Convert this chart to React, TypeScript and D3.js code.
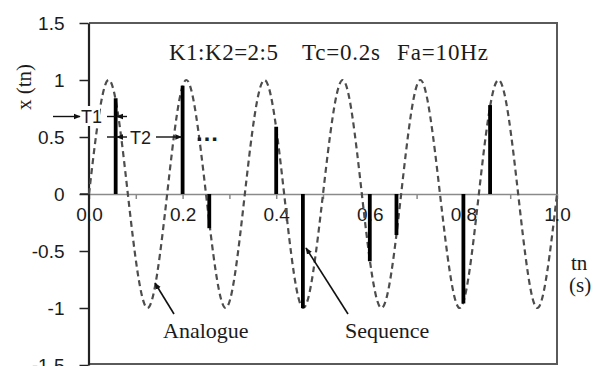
import React, { useEffect, useRef } from 'react';
import * as d3 from 'd3';

// analogue signal, read at peaks / zero crossings / troughs (s, value)
const analogueT = [0, 0.042, 0.083, 0.125, 0.167, 0.208, 0.25, 0.292, 0.333, 0.375, 0.417, 0.458, 0.5,
  0.542, 0.583, 0.625, 0.667, 0.708, 0.75, 0.792, 0.833, 0.875, 0.917, 0.958, 1.0];
const analogueX = [0, 1, 0, -1, 0, 1, 0, -1, 0, 1, 0, -1, 0, 1, 0, -1, 0, 1, 0, -1, 0, 1, 0, -1, 0];

// sampled sequence (stems)
const sequenceT = [0.057, 0.2, 0.257, 0.4, 0.457, 0.6, 0.657, 0.8, 0.857];
const sequenceX = [0.84, 0.95, -0.3, 0.59, -1.0, -0.59, -0.36, -0.96, 0.78];

const xTicks = [0, 0.1, 0.2, 0.3, 0.4, 0.5, 0.6, 0.7, 0.8, 0.9, 1.0];
const yTicks = [-1.5, -1, -0.5, 0, 0.5, 1, 1.5];

const W = 593;
const H = 366;

const App = () => {
  const svgRef = useRef<SVGSVGElement>(null);

  useEffect(() => {
    const svg = d3.select(svgRef.current);
    svg.selectAll('*').remove();

    const x = d3.scaleLinear().domain([0, 1]).range([89, 557]);
    const y = d3.scaleLinear().domain([-1.5, 1.5]).range([365, 23]);

    const sans = '"Liberation Sans", Arial, sans-serif';
    const serif = '"Liberation Serif", "Times New Roman", serif';
    const ink = '#1b1b1b';

    svg.append('rect').attr('width', W).attr('height', H).attr('fill', '#fff');

    const defs = svg.append('defs');
    defs.append('marker')
      .attr('id', 'ah')
      .attr('viewBox', '0 0 10 10')
      .attr('refX', 9).attr('refY', 5)
      .attr('markerWidth', 7).attr('markerHeight', 7)
      .attr('markerUnits', 'userSpaceOnUse')
      .attr('orient', 'auto')
      .append('path').attr('d', 'M0,1 L10,5 L0,9 Z').attr('fill', '#111');

    // plot frame (top / right / bottom)
    svg.append('path')
      .attr('d', `M${x(0)},${y(1.5)}H${x(1)}V${y(-1.5) - 1}H${x(0)}`)
      .attr('fill', 'none')
      .attr('stroke', '#5a5a5a')
      .attr('stroke-width', 2);

    // x axis on y = 0
    const xAxis = d3.axisBottom(x)
      .tickValues(xTicks)
      .tickSizeInner(5)
      .tickSizeOuter(0)
      .tickPadding(9)
      .tickFormat((d: any) => (Math.round(d * 10) % 2 === 0 ? d3.format('.1f')(d) : ''));
    const gx = svg.append('g').attr('transform', `translate(0,${y(0)})`).call(xAxis);
    gx.select('.domain').attr('stroke', '#8a8a8a').attr('stroke-width', 1.5);
    gx.selectAll('line').attr('stroke', '#8a8a8a').attr('stroke-width', 1.5);
    gx.selectAll('text').attr('font-family', sans).attr('font-size', 19).attr('fill', ink);
    // extend the zero line to the left tick
    svg.append('line')
      .attr('x1', 80).attr('x2', x(0))
      .attr('y1', y(0)).attr('y2', y(0))
      .attr('stroke', '#333').attr('stroke-width', 1.5);

    // y axis (plain hyphen for negatives, like the source)
    const yAxis = d3.axisLeft(y)
      .tickValues(yTicks)
      .tickSizeInner(9)
      .tickSizeOuter(0)
      .tickPadding(15)
      .tickFormat((d: any) => String(d));
    const gy = svg.append('g').attr('transform', `translate(${x(0) - 0.5},0)`).call(yAxis);
    gy.select('.domain').attr('stroke', '#222').attr('stroke-width', 2.2);
    gy.selectAll('line').attr('stroke', '#222').attr('stroke-width', 1.5);
    gy.selectAll('text').attr('font-family', sans).attr('font-size', 19).attr('fill', ink);

    // analogue signal
    const line = d3.line<number>()
      .x((_, i) => x(analogueT[i]))
      .y(d => y(d))
      .curve(d3.curveNatural);
    svg.append('path')
      .attr('d', line(analogueX))
      .attr('fill', 'none')
      .attr('stroke', '#4d4d4d')
      .attr('stroke-width', 2.2)
      .attr('stroke-dasharray', '6,4');

    // sequence stems
    svg.append('g')
      .selectAll('line')
      .data(sequenceX)
      .enter()
      .append('line')
      .attr('x1', (_, i) => x(sequenceT[i]))
      .attr('x2', (_, i) => x(sequenceT[i]))
      .attr('y1', y(0))
      .attr('y2', d => y(d))
      .attr('stroke', '#000')
      .attr('stroke-width', 3.8);

    // annotation text
    const txt = (tx: number, ty: number, s: string, size: number, family: string, anchor = 'start') =>
      svg.append('text')
        .attr('x', tx).attr('y', ty)
        .attr('font-family', family)
        .attr('font-size', size)
        .attr('text-anchor', anchor)
        .attr('fill', ink)
        .text(s);

    txt(169, 60, 'K1:K2=2:5', 23, serif).attr('textLength', 109);
    txt(302, 60, 'Tc=0.2s', 23, serif).attr('textLength', 78);
    txt(397, 60, 'Fa=10Hz', 23, serif).attr('textLength', 91);

    svg.append('text')
      .attr('transform', `translate(31,87) rotate(-90)`)
      .attr('text-anchor', 'middle')
      .attr('font-family', serif)
      .attr('font-size', 21)
      .attr('fill', ink)
      .text('x (tn)');

    txt(571, 270, 'tn', 21, serif);
    txt(569, 292, '(s)', 21, serif);

    txt(163, 338, 'Analogue', 22, serif);
    txt(345, 338, 'Sequence', 22, serif);

    const arrow = (x1: number, y1: number, x2: number, y2: number, w = 1.4) =>
      svg.append('line')
        .attr('x1', x1).attr('y1', y1).attr('x2', x2).attr('y2', y2)
        .attr('stroke', '#111').attr('stroke-width', w)
        .attr('marker-end', 'url(#ah)');

    arrow(174, 314, 155, 283, 1.6);
    arrow(348, 314, 306, 248, 1.6);

    // T1 / T2 interval marks
    const yT1 = 116.5;
    const yT2 = y(0.5);
    arrow(53, yT1, 80, yT1);
    svg.append('rect').attr('x', 81).attr('y', 106).attr('width', 19).attr('height', 20).attr('fill', '#fff');
    txt(81, 123, 'T1', 18, sans);
    arrow(127, yT1, x(sequenceT[0]) + 1, yT1);
    svg.append('line').attr('x1', 107).attr('x2', x(sequenceT[0])).attr('y1', yT1).attr('y2', yT1)
      .attr('stroke', '#111').attr('stroke-width', 1.4);

    arrow(127, yT2, x(sequenceT[0]) + 1, yT2);
    svg.append('line').attr('x1', 107).attr('x2', x(sequenceT[0])).attr('y1', yT2).attr('y2', yT2)
      .attr('stroke', '#111').attr('stroke-width', 1.4);
    txt(130, 144, 'T2', 18, sans);
    arrow(156, yT2, x(sequenceT[1]) - 1, yT2);
    txt(195, 141, '\u2026', 24, sans).attr('font-weight', 'bold');
  }, []);

  return (
    <svg
      ref={svgRef}
      width={W}
      height={H}
      style={{ position: 'absolute', left: 0, top: 0, display: 'block' }}
    />
  );
};

export default App;
